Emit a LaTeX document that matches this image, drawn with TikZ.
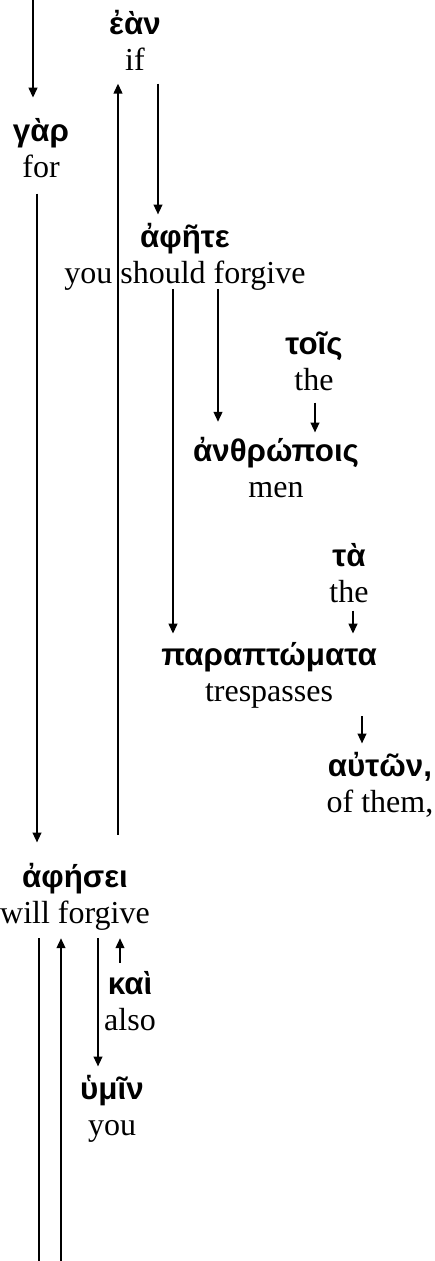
\documentclass[tikz,border=0pt]{standalone}
\usepackage{fontspec}
\setmainfont{Liberation Serif}
\newfontfamily\grk[Script=Greek]{Liberation Sans}
\usetikzlibrary{calc,arrows.meta}
\tikzset{
	wort/.style={align=center, inner xsep=0pt, inner ysep=6pt, anchor=base,
		font=\fontsize{24}{27}\selectfont},
	pfeil/.style={line width=1.5pt, -{Triangle[length=7.5pt,width=6.5pt]}}
}
\newcommand{\gr}[1]{{\grk\bfseries\fontsize{23.5}{27}\selectfont #1}}

\begin{document}
\begin{tikzpicture}[x=0.75pt,y=-0.75pt]
	\useasboundingbox (0,0) rectangle (435,1261);
	% Wörter (Grundlinie der zweiten Zeile)
	\node[wort] (ean) at (135,70) {\gr{ἐὰν}\\if};
	\node[wort] (gar) at (41,177) {\gr{γὰρ}\\for};
	\node[wort] (aphete) at (185,283) {\gr{ἀφῆτε}\\you should forgive};
	\node[wort] (tois) at (314,390) {\gr{τοῖς}\\the};
	\node[wort] (anthropois) at (276,497) {\gr{ἀνθρώποις}\\men};
	\node[wort] (ta) at (349,602) {\gr{τὰ}\\the};
	\node[wort] (paraptomata) at (269,701) {\gr{παραπτώματα}\\trespasses};
	\node[wort] (auton) at (380,812) {\gr{αὐτῶν,}\\of them,};
	\node[wort] (aphesei) at (75,923) {\gr{ἀφήσει}\\will forgive};
	\node[wort] (kai) at (130,1030) {\gr{καὶ}\\also};
	\node[wort] (hymin) at (112,1135) {\gr{ὑμῖν}\\you};
	% freie Enden
	\coordinate (vorher) at (33,-10);
	\coordinate (weiter) at (39,1272);
	\coordinate (unten) at (61,1275);
	% Pfeile
	\draw[pfeil, shorten >=9pt] (vorher) -- (vorher |- gar.north);
	\draw[pfeil, shorten <=6pt, shorten >=9pt] ($(gar.south)+(-4,0)$) -- ($(gar.south |- aphesei.north)+(-4,0)$);
	\draw[pfeil, shorten <=15pt, shorten >=4pt] ($(aphesei.north)+(43,0)$) -- ($(aphesei.north |- ean.south)+(43,0)$);
	\draw[pfeil, shorten <=4pt] ($(ean.south)+(23,0)$) -- ($(ean.south |- aphete.north)+(23,0)$);
	\draw[pfeil, shorten <=-7pt] ($(aphete.south)+(-12,0)$) -- ($(aphete.south |- paraptomata.north)+(-12,0)$);
	\draw[pfeil, shorten <=-7pt, shorten >=5pt] ($(aphete.south)+(33,0)$) -- ($(aphete.south |- anthropois.north)+(33,0)$);
	\draw[pfeil, shorten <=3pt, shorten >=-3pt] ($(tois.south)+(1,0)$) -- ($(tois.south |- anthropois.north)+(1,0)$);
	\draw[pfeil] ($(ta.south)+(4,0)$) -- ($(ta.south |- paraptomata.north)+(4,0)$);
	\draw[pfeil] ($(auton.north |- paraptomata.south)+(-18,0)$) -- ($(auton.north)+(-18,0)$);
	\draw[pfeil] (weiter |- aphesei.south) -- (weiter);
	\draw[pfeil] (unten) -- (unten |- aphesei.south);
	\draw[pfeil] ($(aphesei.south)+(23,0)$) -- ($(aphesei.south |- hymin.north)+(23,0)$);
	\draw[pfeil] ($(kai.north)+(-10,0)$) -- ($(kai.north |- aphesei.south)+(-10,0)$);
\end{tikzpicture}
\end{document}
